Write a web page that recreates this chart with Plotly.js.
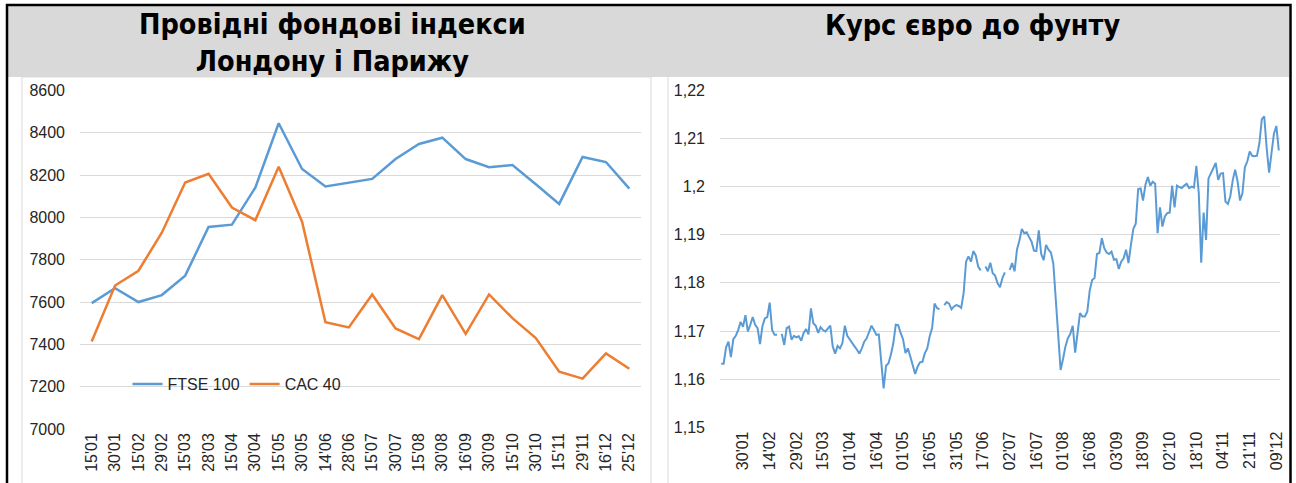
<!DOCTYPE html>
<html>
<head>
<meta charset="utf-8">
<script src="https://cdn.plot.ly/plotly-3.0.1.min.js"></script>
<style>
  html, body { margin: 0; padding: 0; background: #ffffff; }
  #chart { width: 1296px; height: 483px; }
</style>
</head>
<body>
<div id="chart"></div>
<script>
// ---- Left chart: leading stock indices of London and Paris ----
const indexDates = ["15'01","30'01","15'02","29'02","15'03","28'03","15'04","30'04","15'05","30'05","14'06","28'06",
                    "15'07","30'07","15'08","30'08","16'09","30'09","15'10","30'10","15'11","29'11","16'12","25'12"];
const ftse100 = [7595, 7666, 7600, 7633, 7725, 7955, 7966, 8141, 8445, 8229, 8146, 8165,
                 8182, 8276, 8347, 8377, 8276, 8237, 8248, 8157, 8064, 8286, 8262, 8136];
const cac40   = [7414, 7678, 7748, 7928, 8165, 8206, 8047, 7987, 8240, 7980, 7505, 7480,
                 7636, 7475, 7425, 7633, 7450, 7636, 7524, 7430, 7271, 7238, 7357, 7285];

// ---- Right chart: EUR/GBP rate (daily observations) ----
const eurGbp = [
  1.1632, 1.1632, 1.1666, 1.1678, 1.1646, 1.1683, 1.1690, 1.1702, 1.1719, 1.1709,
  1.1733, 1.1699, 1.1713, 1.1729, 1.1713, 1.1706, 1.1673, 1.1710, 1.1726, 1.1729,
  1.1759, 1.1702, 1.1692, 1.1692, null,   1.1694, 1.1671, 1.1706, 1.1709, 1.1682,
  1.1690, 1.1687, 1.1689, 1.1680, 1.1696, 1.1704, 1.1693, 1.1747, 1.1716, 1.1711,
  1.1696, 1.1708, 1.1702, 1.1699, 1.1706, 1.1711, 1.1668, 1.1653, 1.1669, 1.1664,
  1.1675, 1.1711, 1.1690, 1.1682, 1.1675, 1.1668, 1.1661, 1.1653, 1.1664, 1.1678,
  1.1685, 1.1699, 1.1711, 1.1702, 1.1692, 1.1693, 1.1640, 1.1581, 1.1628, 1.1633,
  1.1651, 1.1675, 1.1713, 1.1712, 1.1696, 1.1683, 1.1654, 1.1664, 1.1647, 1.1626,
  1.1611, 1.1626, 1.1635, 1.1636, 1.1654, 1.1664, 1.1689, 1.1706, 1.1757, 1.1748,
  1.1745, null,   1.1754, 1.1760, 1.1757, 1.1745, 1.1751, 1.1754, 1.1752, 1.1748,
  1.1779, 1.1844, 1.1855, 1.1844, 1.1866, 1.1857, 1.1834, 1.1826, null,   1.1834,
  1.1824, 1.1842, 1.1820, 1.1815, 1.1799, 1.1791, 1.1810, 1.1822, null,   1.1827,
  1.1841, 1.1824, 1.1869, 1.1888, 1.1912, 1.1903, 1.1905, 1.1895, 1.1886, 1.1867,
  1.1866, 1.1909, 1.1860, 1.1847, 1.1879, 1.1869, 1.1863, 1.1840, 1.1770, 1.1680,
  1.1619, 1.1642, 1.1668, 1.1685, 1.1694, 1.1711, 1.1655, 1.1696, 1.1737, 1.1730,
  1.1730, 1.1740, 1.1784, 1.1806, 1.1810, 1.1860, 1.1862, 1.1893, 1.1872, 1.1863,
  1.1860, 1.1865, 1.1848, 1.1849, 1.1829, 1.1844, 1.1851, 1.1869, 1.1841, 1.1879,
  1.1912, 1.1923, 1.1995, 1.1996, 1.1971, 1.2004, 1.2020, 1.2002, 1.2010, 1.2006,
  1.1903, 1.1957, 1.1917, 1.1938, 1.1945, 1.1946, 1.2002, 1.1957, 1.2002, 1.1999,
  1.1997, 1.2002, 1.2006, 1.1997, 1.2000, 1.1998, 1.2043, 1.1986, 1.1842, 1.1946,
  1.1889, 1.2017, 1.2028, 1.2038, 1.2049, 1.2014, 1.2027, 1.2028, 1.1969, 1.1964,
  1.1980, 1.2013, 1.2035, 1.2011, 1.1971, 1.1986, 1.2040, 1.2052, 1.2073, 1.2064,
  1.2063, 1.2064, 1.2090, 1.2140, 1.2146, 1.2080, 1.2029, 1.2070, 1.2110, 1.2126,
  1.2075
];
const rateTickLabels = ["30'01","14'02","29'02","15'03","01'04","16'04","01'05","16'05","31'05","17'06","02'07",
                        "16'07","01'08","16'08","03'09","18'09","02'10","18'10","04'11","21'11","09'12"];
const rateFirstLabelIndex = 9;   // observation index of the first labelled day
const rateLabelStep = 11;        // observations between labels

const titleLeft = "Провідні фондові індекси<br>Лондону і Парижу";
const titleRight = "Курс євро до фунту";

// ---- build ----
const W = 1296, H = 483;
const px = x => x / W;
const py = y => 1 - y / H;

const rateX = eurGbp.map((_, i) => i);
const rateTickVals = rateTickLabels.map((_, k) => rateFirstLabelIndex + k * rateLabelStep);

const tickFont = {family: "Liberation Sans, Arial, sans-serif", size: 16, color: "#262626"};
const titleFont = {family: "DejaVu Sans Condensed, DejaVu Sans, sans-serif", size: 28.5, color: "#000000"};

const traces = [
  {x: indexDates, y: ftse100, name: "FTSE 100", type: "scatter", mode: "lines",
   line: {color: "#5b9bd5", width: 2.5}, xaxis: "x", yaxis: "y"},
  {x: indexDates, y: cac40, name: "CAC 40", type: "scatter", mode: "lines",
   line: {color: "#ed7d31", width: 2.5}, xaxis: "x", yaxis: "y"},
  {x: rateX, y: eurGbp, name: "EUR/GBP", type: "scatter", mode: "lines", showlegend: false,
   connectgaps: false, line: {color: "#5b9bd5", width: 2}, xaxis: "x2", yaxis: "y2"}
];

const gridColor = "#d9d9d9";

const layout = {
  width: W, height: H,
  margin: {l: 0, r: 0, t: 0, b: 0},
  paper_bgcolor: "#ffffff",
  plot_bgcolor: "rgba(0,0,0,0)",
  separators: ", ",
  showlegend: true,
  legend: {orientation: "h", x: px(237), xanchor: "center", y: py(384), yanchor: "middle",
           font: {family: "Liberation Sans, Arial, sans-serif", size: 16, color: "#262626"},
           bgcolor: "rgba(0,0,0,0)", itemwidth: 30, tracegroupgap: 0},
  xaxis: {domain: [px(80), px(641)], type: "category", range: [-0.5, indexDates.length - 0.5],
          showgrid: false, zeroline: false,
          showline: false, ticks: "", tickangle: -90, tickfont: tickFont, fixedrange: true},
  yaxis: {domain: [py(429), py(90.5)], range: [7000, 8600], dtick: 200, tick0: 7000,
          showgrid: true, gridcolor: gridColor, gridwidth: 1, zeroline: false, showline: false,
          ticks: "", ticklabelstandoff: 14, tickfont: tickFont, anchor: "x"},
  xaxis2: {domain: [px(720), px(1280)], range: [-0.5, eurGbp.length - 0.5], showgrid: false,
           zeroline: false, showline: false, ticks: "", tickangle: -90, tickmode: "array",
           tickvals: rateTickVals, ticktext: rateTickLabels, tickfont: tickFont, anchor: "y2"},
  yaxis2: {domain: [py(427.3), py(90.3)], range: [1.15, 1.22], dtick: 0.01, tick0: 1.15,
           showgrid: true, gridcolor: gridColor, gridwidth: 1, zeroline: false, showline: false,
           ticks: "", ticklabelstandoff: 14, tickfont: tickFont, anchor: "x2"},
  shapes: [
    {type: "rect", xref: "paper", yref: "paper", x0: px(8), x1: px(1289), y0: py(77), y1: py(6),
     fillcolor: "#d9d9d9", line: {width: 0}, layer: "below"},
    {type: "rect", xref: "paper", yref: "paper", x0: px(22), x1: px(651), y0: py(500), y1: py(77),
     fillcolor: "rgba(0,0,0,0)", line: {color: "#d9d9d9", width: 1}, layer: "below"},
    {type: "line", xref: "paper", yref: "paper", x0: px(668), x1: px(668), y0: py(500), y1: py(77),
     line: {color: "#d9d9d9", width: 1}, layer: "below"},
    {type: "rect", xref: "paper", yref: "paper", x0: px(7), x1: px(1290.5), y0: py(520), y1: py(5),
     fillcolor: "rgba(0,0,0,0)", line: {color: "#000000", width: 2.5}, layer: "above"}
  ],
  annotations: [
    {text: "<b>" + titleLeft + "</b>", xref: "paper", yref: "paper", x: px(332), y: py(43),
     xanchor: "center", yanchor: "middle", showarrow: false, font: titleFont, align: "center"},
    {text: "<b>" + titleRight + "</b>", xref: "paper", yref: "paper", x: px(972), y: py(26),
     xanchor: "center", yanchor: "middle", showarrow: false, font: titleFont, align: "center"}
  ]
};

Plotly.newPlot("chart", traces, layout, {displayModeBar: false, staticPlot: true});
</script>
</body>
</html>
